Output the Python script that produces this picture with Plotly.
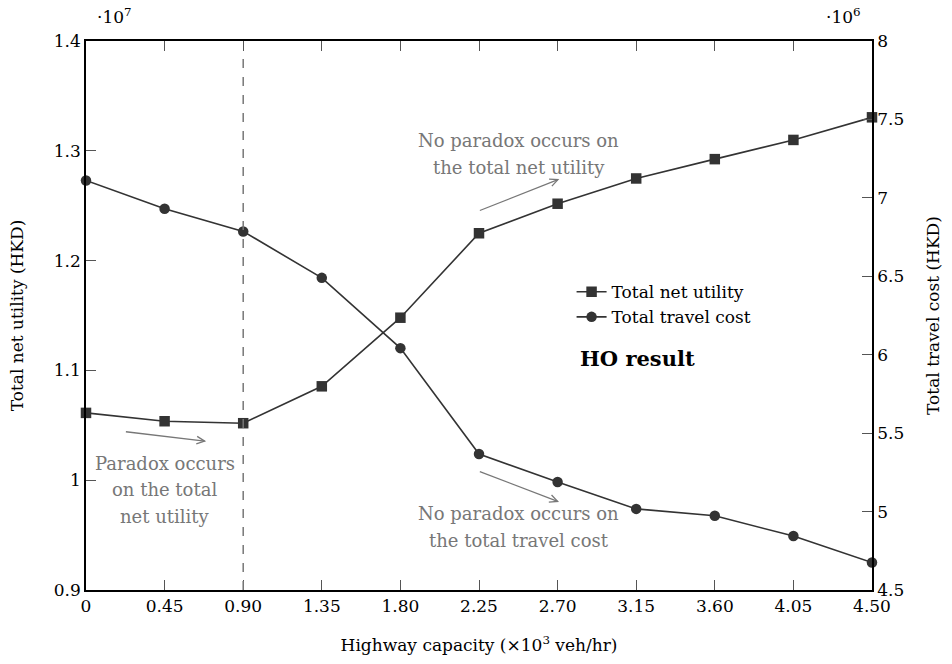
import math
import plotly.graph_objects as go

# ---- data ----
capacity = [0, 0.45, 0.90, 1.35, 1.80, 2.25, 2.70, 3.15, 3.60, 4.05, 4.50]
capacity_labels = ["0", "0.45", "0.90", "1.35", "1.80", "2.25", "2.70", "3.15", "3.60", "4.05", "4.50"]
net_utility_1e7 = [1.0613, 1.0537, 1.0519, 1.0855, 1.148, 1.2249, 1.2518, 1.2748, 1.2924, 1.3099, 1.3305]
travel_cost_1e6 = [7.111, 6.931, 6.786, 6.490, 6.042, 5.367, 5.188, 5.017, 4.973, 4.844, 4.675]
left_ticks = [0.9, 1.0, 1.1, 1.2, 1.3, 1.4]
left_labels = ["0.9", "1", "1.1", "1.2", "1.3", "1.4"]
right_ticks = [4.5, 5, 5.5, 6, 6.5, 7, 7.5, 8]
right_labels = ["4.5", "5", "5.5", "6", "6.5", "7", "7.5", "8"]
paradox_x = 0.90

W, H = 952, 664
L, R, T, B = 86, 874.3, 40.7, 592.3
FONT = "DejaVu Serif"
DARK = "#333333"
GRAY = "#777777"

def px(x):
    return (x - L) / (R - L)

def py(y):
    return (B - y) / (B - T)

fig = go.Figure()
fig.add_trace(go.Scatter(
    x=capacity, y=net_utility_1e7, name="Total net utility", mode="lines+markers",
    line=dict(color=DARK, width=1.6), marker=dict(symbol="square", size=10.5, color=DARK),
    yaxis="y", cliponaxis=False))
fig.add_trace(go.Scatter(
    x=capacity, y=travel_cost_1e6, name="Total travel cost", mode="lines+markers",
    line=dict(color=DARK, width=1.6), marker=dict(symbol="circle", size=10.5, color=DARK),
    yaxis="y2", cliponaxis=False))

fig.add_shape(type="line", x0=paradox_x, x1=paradox_x, xref="x", y0=0, y1=0.97, yref="paper",
              line=dict(color=GRAY, width=1.5, dash="dash"))

ann = []
def text(xp, yp, s, color=GRAY, size=18, **kw):
    ann.append(dict(x=px(xp), y=py(yp), xref="paper", yref="paper", text=s, showarrow=False,
                    font=dict(family=FONT, size=size, color=color), xanchor="center", yanchor="middle", **kw))

def arrow(x0, y0, x1, y1):
    fig.add_shape(type="line", x0=px(x0), y0=py(y0), x1=px(x1), y1=py(y1), xref="paper", yref="paper",
                  line=dict(color=GRAY, width=1.3))
    dx, dy = x1 - x0, y1 - y0
    n = math.hypot(dx, dy)
    ux, uy = dx / n, dy / n
    nx, ny = -uy, ux
    hl, hw = 8, 3.8
    ax1, ay1 = x1 - hl * ux + hw * nx, y1 - hl * uy + hw * ny
    ax2, ay2 = x1 - hl * ux - hw * nx, y1 - hl * uy - hw * ny
    path = f"M {px(ax1)},{py(ay1)} L {px(x1)},{py(y1)} L {px(ax2)},{py(ay2)}"
    fig.add_shape(type="path", path=path, xref="paper", yref="paper", line=dict(color=GRAY, width=1.3))

text(165, 465, "Paradox occurs")
text(165, 491.7, "on the total")
text(165, 518, "net utility")
arrow(126, 433.3, 205, 442.7)

text(520, 141, "No paradox occurs on")
text(520, 168.3, "the total net utility")
arrow(481, 211, 559.3, 180)

text(520, 515, "No paradox occurs on")
text(520, 542.3, "the total travel cost")
arrow(481, 473.3, 559, 503.3)

text(638.7, 360, "<b>HO result</b>", color="black", size=21)

text(115, 16, "·10<sup>7</sup>", color="black", size=17)
text(846, 16, "·10<sup>6</sup>", color="black", size=17)

axis_common = dict(showgrid=False, zeroline=False, showline=True, linecolor="black", linewidth=1.6,
                   ticks="inside", ticklen=10, tickwidth=1, tickcolor="#555555",
                   tickfont=dict(family=FONT, size=17, color="black"))
title_font = dict(family=FONT, size=17, color="black")

fig.update_layout(
    width=W, height=H, autosize=False,
    margin=dict(l=L, r=W - R, t=T, b=H - B, pad=0),
    paper_bgcolor="white", plot_bgcolor="white",
    font=dict(family=FONT, size=17, color="black"),
    xaxis=dict(range=[0, 4.5], tickvals=capacity, ticktext=capacity_labels, mirror="ticks",
               title=dict(text="Highway capacity (×10<sup>3</sup> veh/hr)", font=title_font, standoff=24),
               **axis_common),
    yaxis=dict(range=[0.9, 1.4], tickvals=left_ticks, ticktext=left_labels, side="left",
               title=dict(text="Total net utility (HKD)", font=title_font, standoff=26),
               **axis_common),
    yaxis2=dict(range=[4.5, 8], tickvals=right_ticks, ticktext=right_labels, side="right",
                overlaying="y", anchor="x",
                title=dict(text="Total travel cost (HKD)", font=title_font, standoff=24),
                **axis_common),
    legend=dict(x=px(573), y=py(275), xanchor="left", yanchor="top", bgcolor="rgba(0,0,0,0)",
                font=dict(family=FONT, size=17, color="black"), tracegroupgap=0, itemwidth=30),
    showlegend=True,
    annotations=ann,
)

fig.write_html("out.html")
